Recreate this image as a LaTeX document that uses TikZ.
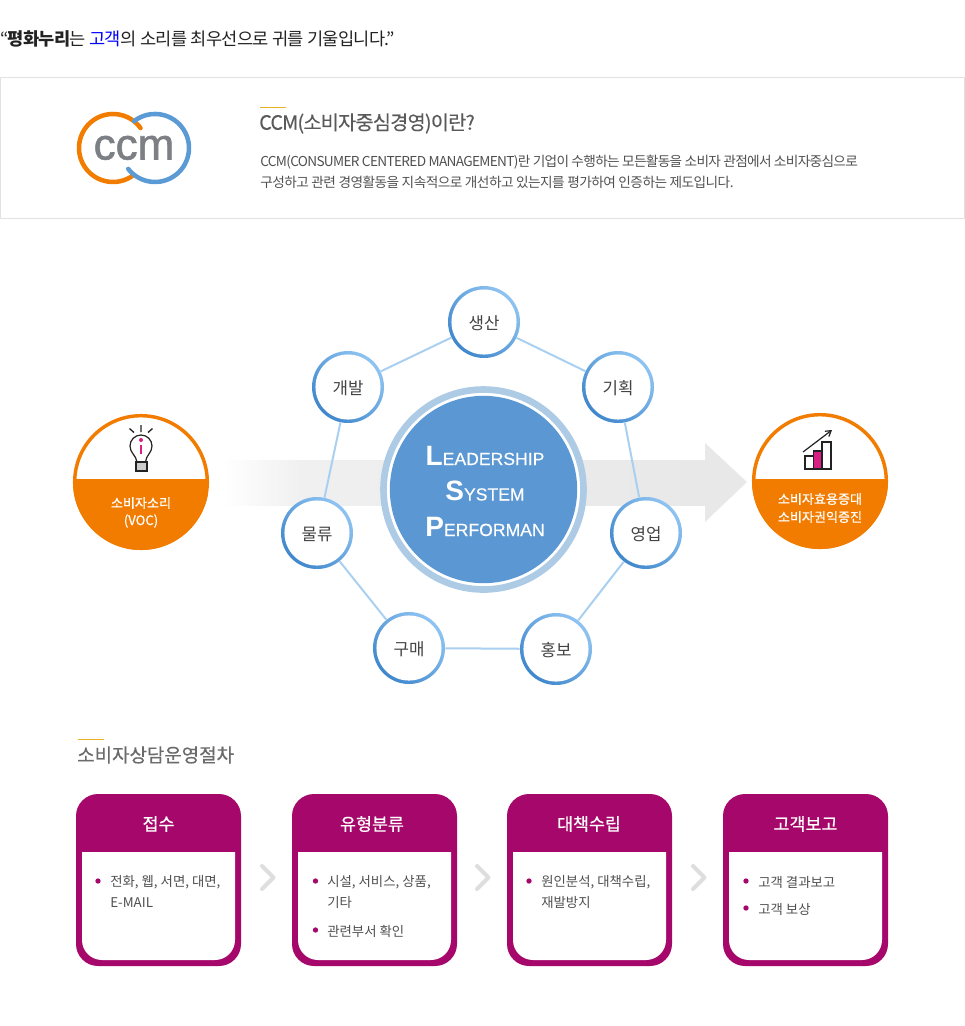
\documentclass[tikz,border=0pt]{standalone}
\usepackage{fontspec}
\setmainfont{Noto Sans CJK KR}
\newfontfamily\tightfont{Noto Sans CJK KR}[LetterSpace=-4]
\newfontfamily\tighterfont{Noto Sans CJK KR}[LetterSpace=-5]
\newfontfamily\medfont{Noto Sans CJK KR}[FakeBold=0.6]
\newfontfamily\medtight{Noto Sans CJK KR}[FakeBold=0.2,LetterSpace=-4]
\newfontfamily\capsfont{Liberation Sans}
\newfontfamily\capsmed{Liberation Sans}[FakeBold=0.3]
\newfontfamily\logofont{Liberation Sans}[FakeBold=1.4]
\usepackage{xcolor}
\usetikzlibrary{arrows.meta}
\definecolor{ink}{HTML}{222222}
\definecolor{body}{HTML}{505050}
\definecolor{head}{HTML}{5A5A5A}
\definecolor{rule}{HTML}{E2E2E2}
\definecolor{gold}{HTML}{E9B224}
\definecolor{ccmgray}{HTML}{7C7F83}
\definecolor{ccmorange}{HTML}{F27C00}
\definecolor{ccmblue}{HTML}{5B9BD5}
\definecolor{core}{HTML}{5B97D2}
\definecolor{halo}{HTML}{AECBE6}
\definecolor{spoke}{HTML}{A9D0F0}
\definecolor{ringdark}{HTML}{3F87CC}
\definecolor{ringlight}{HTML}{8FC4F2}
\definecolor{plum}{HTML}{A5086A}
\definecolor{pink}{HTML}{D81F84}
\definecolor{band}{HTML}{E8E8E8}
\definecolor{chev}{HTML}{DEDEDE}
\newcommand{\fs}[1]{\fontsize{#1}{#1}\selectfont}
\tikzset{
  lefttxt/.style={anchor=west, inner sep=0pt},
  dept/.style={circle, inner sep=0pt, minimum size=54pt, left color=ringdark, right color=ringlight, shading angle=135,
    path picture={\fill[white] (path picture bounding box.center) circle (24.4pt);},
    text=ink!85, font=\fs{12.6}, text height=11.5pt, text depth=1pt},
  spokeline/.style={draw=spoke, line width=1.5pt},
  coreword/.style={anchor=base, inner sep=0pt, text=white},
  voclbl/.style={inner sep=0pt, text=white, font=\medfont\fs{9.8}},
  cardttl/.style={inner sep=0pt, text=white, font=\medfont\fs{13}},
  cardtxt/.style={lefttxt, text=body, font=\fs{10.05}},
  bul/.style={circle, fill=plum, inner sep=0pt, minimum size=4pt},
  chevron/.style={draw=chev, line width=3pt, line cap=round, line join=round}
}
\begin{document}
\begin{tikzpicture}[x=0.75pt,y=0.75pt]
\useasboundingbox (0,0) rectangle (965,-1026);
% top line
\node[lefttxt, text=ink, font=\tightfont\fs{13.2}] (quote) at (0,-39) {“\textbf{평화누리}는 \textcolor{blue}{고객}의 소리를 최우선으로 귀를 기울입니다.”};
% intro box
\draw[rule, line width=0.9pt] (0.5,-77.5) rectangle (964.5,-218.5);
\draw[ccmorange, line width=3.4pt, line cap=round] (140.5,-128) arc (36:306:34);
\draw[ccmblue, line width=3.4pt, line cap=round] (128.2,-168.9) arc (-142:128:34);
\node[anchor=base, inner sep=0pt, text=ccmgray, font=\logofont\fs{33}] (ccm) at (134,-159.5) {ccm};
\draw[gold, line width=0.75pt] (260,-107) -- (286,-107);
\node[lefttxt, text=head, font=\medtight\fs{14.8}] (ccmttl) at (259,-123.5) {CCM(소비자중심경영)이란?};
\node[lefttxt, text=body, font=\tighterfont\fs{10.25}] (ccmtxt1) at (260,-162) {CCM(CONSUMER CENTERED MANAGEMENT)란 기업이 수행하는 모든활동을 소비자 관점에서 소비자중심으로};
\node[lefttxt, text=body, font=\tightfont\fs{10.25}] (ccmtxt2) at (260,-182.5) {구성하고 관련 경영활동을 지속적으로 개선하고 있는지를 평가하여 인증하는 제도입니다.};
% band arrow
\shade[left color=white, right color=band!65!white] (223,-460) rectangle (300,-505);
\shade[left color=band!65!white, right color=band] (300,-460) rectangle (705,-505);
\fill[band] (705,-443) -- (747,-482) -- (705,-522) -- cycle;
% departments
\node[dept] (prod) at (484,-322) {생산};
\node[dept] (plan) at (618,-387) {기획};
\node[dept] (sale) at (646,-533) {영업};
\node[dept] (prom) at (556,-649) {홍보};
\node[dept] (buy) at (409,-648) {구매};
\node[dept] (ship) at (317,-533) {물류};
\node[dept] (devl) at (348,-387) {개발};
\draw[spokeline] (prod) -- (plan);
\draw[spokeline] (plan) -- (sale);
\draw[spokeline] (sale) -- (prom);
\draw[spokeline] (prom) -- (buy);
\draw[spokeline] (buy) -- (ship);
\draw[spokeline] (ship) -- (devl);
\draw[spokeline] (devl) -- (prod);
% center
\fill[white] (483.5,-489.5) circle (100);
\draw[halo, line width=5pt] (483.5,-489.5) circle (100);
\node[circle, fill=core, inner sep=0pt, minimum size=140.5pt] (lsp) at (483.5,-489.5) {};
\node[coreword] (lsp1) at (485,-465) {{\capsfont\bfseries\fs{21}L}{\capsmed\fs{13.2}EADERSHIP}};
\node[coreword] (lsp2) at (485,-500.5) {{\capsfont\bfseries\fs{21}S}{\capsmed\fs{13.2}YSTEM}};
\node[coreword] (lsp3) at (485,-536) {{\capsfont\bfseries\fs{21}P}{\capsmed\fs{13.2}ERFORMAN}};
% voc circle
\begin{scope}
\clip (141,-482) circle (68);
\fill[white] (73,-414) rectangle (209,-479);
\fill[ccmorange] (73,-479) rectangle (209,-550);
\end{scope}
\draw[ccmorange, line width=2.6pt] (141,-482) circle (66.3);
\node[voclbl] (voc1) at (141,-503) {소비자소리};
\node[voclbl] (voc2) at (141,-521) {(VOC)};
% bulb
\draw[ink, line width=0.9pt] (137,-462) .. controls (136,-455) and (130,-453) .. (130,-446) arc (180:0:11) .. controls (152,-453) and (146,-455) .. (145.5,-462);
\draw[ink, line width=0.9pt, fill=gray!40] (136,-462) rectangle (147,-471);
\draw[ink, line width=1pt] (141,-425) -- (141,-432) (129.5,-428.5) -- (134,-432.5) (152.5,-428.5) -- (148,-432.5);
\fill[pink] (141,-440) circle (2);
\draw[pink, line width=2pt] (141,-444.5) -- (141,-454);
% result circle
\begin{scope}
\clip (820,-481) circle (68);
\fill[white] (750,-411) rectangle (890,-479);
\fill[ccmorange] (750,-479) rectangle (890,-551);
\end{scope}
\draw[ccmorange, line width=2.6pt] (820,-481) circle (66.3);
\node[voclbl] (res1) at (820,-499) {소비자효용증대};
\node[voclbl] (res2) at (820,-517) {소비자권익증진};
% chart
\draw[ink, line width=0.9pt, fill=white] (805,-456) rectangle (813.5,-469);
\draw[ink, line width=0.9pt, fill=pink] (813.5,-451) rectangle (822,-469);
\draw[ink, line width=0.9pt, fill=white] (822,-442) rectangle (831,-469);
\draw[ink, line width=0.9pt, -{Straight Barb[length=4pt,width=5pt]}] (803,-452) -- (832,-430);
% steps title
\draw[gold, line width=0.75pt] (78,-739) -- (104,-739);
\node[lefttxt, text=head!90, font=\medfont\fs{14.2}] (stepttl) at (77,-755) {소비자상담운영절차};
% cards
\fill[plum] (76,-816) arc (180:90:22) -- (219,-794) arc (90:0:22) -- (241,-944) arc (0:-90:22) -- (98,-966) arc (-90:-180:22) -- cycle;
\fill[white] (82,-852) -- (235,-852) -- (235,-940) arc (0:-90:20) -- (102,-960) arc (-90:-180:20) -- cycle;
\fill[plum] (292,-816) arc (180:90:22) -- (435,-794) arc (90:0:22) -- (457,-944) arc (0:-90:22) -- (314,-966) arc (-90:-180:22) -- cycle;
\fill[white] (298,-852) -- (451,-852) -- (451,-940) arc (0:-90:20) -- (318,-960) arc (-90:-180:20) -- cycle;
\fill[plum] (507,-816) arc (180:90:22) -- (650,-794) arc (90:0:22) -- (672,-944) arc (0:-90:22) -- (529,-966) arc (-90:-180:22) -- cycle;
\fill[white] (513,-852) -- (666,-852) -- (666,-940) arc (0:-90:20) -- (533,-960) arc (-90:-180:20) -- cycle;
\fill[plum] (723,-816) arc (180:90:22) -- (866,-794) arc (90:0:22) -- (888,-944) arc (0:-90:22) -- (745,-966) arc (-90:-180:22) -- cycle;
\fill[white] (729,-852) -- (882,-852) -- (882,-940) arc (0:-90:20) -- (749,-960) arc (-90:-180:20) -- cycle;
\node[cardttl] (ttl1) at (158.5,-824) {접수};
\node[cardttl] (ttl2) at (372,-824) {유형분류};
\node[cardttl] (ttl3) at (589,-824) {대책수립};
\node[cardttl] (ttl4) at (805.5,-824) {고객보고};
% card text
\node[bul] (b11) at (98,-881) {};
\node[cardtxt] (t11) at (110,-882.5) {전화, 웹, 서면, 대면,};
\node[cardtxt] (t12) at (110,-902.5) {E-MAIL};
\node[bul] (b21) at (315.5,-881) {};
\node[cardtxt] (t21) at (327,-882.5) {시설, 서비스, 상품,};
\node[cardtxt] (t22) at (327,-902.5) {기타};
\node[bul] (b22) at (315.5,-930) {};
\node[cardtxt] (t23) at (327,-931.5) {관련부서 확인};
\node[bul] (b31) at (529,-881) {};
\node[cardtxt] (t31) at (541,-882.5) {원인분석, 대책수립,};
\node[cardtxt] (t32) at (541,-902.5) {재발방지};
\node[bul] (b41) at (746,-881) {};
\node[cardtxt] (t41) at (758,-882.5) {고객 결과보고};
\node[bul] (b42) at (746,-908) {};
\node[cardtxt] (t42) at (758,-909.5) {고객 보상};
% chevrons
\draw[chevron] (262,-866) -- (273.5,-877.5) -- (262,-889);
\draw[chevron] (477,-866) -- (488.5,-877.5) -- (477,-889);
\draw[chevron] (693,-866) -- (704.5,-877.5) -- (693,-889);
\end{tikzpicture}
\end{document}
